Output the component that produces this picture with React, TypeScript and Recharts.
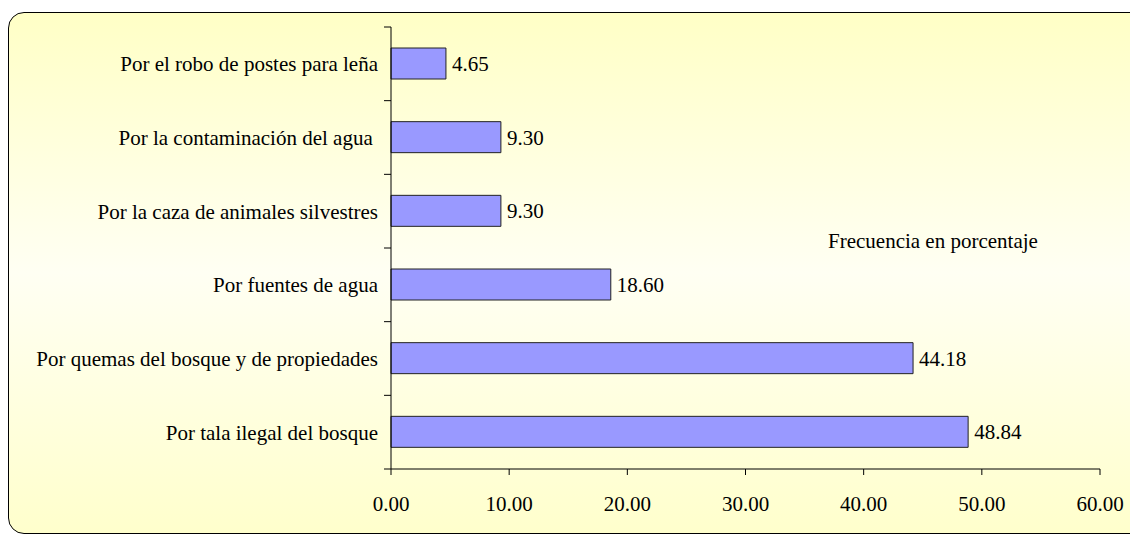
import { BarChart, Bar, XAxis, YAxis, LabelList } from 'recharts';

const categories = [
  'Por el robo de postes para leña',
  'Por la contaminación del agua ',
  'Por la caza de animales silvestres',
  'Por fuentes de agua',
  'Por quemas del bosque y de propiedades',
  'Por tala ilegal del bosque',
];
const frequencies = [4.65, 9.3, 9.3, 18.6, 44.18, 48.84];
const xTicks = [0, 10, 20, 30, 40, 50, 60];
const seriesName = 'Frecuencia en porcentaje';

const WIDTH = 1130;
const HEIGHT = 535;
const FONT = '"Liberation Serif", "Times New Roman", serif';
const PLOT_TOP = 27;
const PLOT_BOTTOM = 469;

const data = categories.map((name, i) => ({ name, value: frequencies[i] }));

// Category label at the band centre, short tick marks on the band edges
function CategoryTick(props: any) {
  const { x, y, payload, index } = props;
  const half = payload.offset ?? (PLOT_BOTTOM - PLOT_TOP) / categories.length / 2;
  return (
    <g>
      <line x1={x - 7} x2={x} y1={y - half} y2={y - half} stroke="#000" />
      {index === categories.length - 1 && (
        <line x1={x - 7} x2={x} y1={y + half} y2={y + half} stroke="#000" />
      )}
      <text
        x={x - 13}
        y={y}
        dy="0.355em"
        textAnchor="end"
        fill="#000"
        fontSize={21}
        fontFamily={FONT}
        style={{ whiteSpace: 'pre' }}
      >
        {payload.value}
      </text>
    </g>
  );
}

export default function App() {
  return (
    <div
      style={{
        position: 'fixed',
        left: 0,
        top: 0,
        width: WIDTH,
        height: HEIGHT,
        overflow: 'hidden',
        background: '#fff',
      }}
    >
      <div
        style={{
          position: 'absolute',
          left: 8,
          top: 12,
          width: 1140,
          height: 520,
          border: '1.5px solid #000',
          borderRadius: 16,
          background: 'linear-gradient(to bottom, #ffffc6 0%, #fffff3 50%, #ffffcc 100%)',
        }}
      />
      <div style={{ position: 'absolute', left: 0, top: 0 }}>
        <BarChart
          width={WIDTH}
          height={HEIGHT}
          data={data}
          layout="vertical"
          margin={{ top: PLOT_TOP, right: 30, bottom: 0, left: 0 }}
        >
          <XAxis
            type="number"
            domain={[0, 60]}
            ticks={xTicks}
            height={HEIGHT - PLOT_BOTTOM}
            tickFormatter={(v: number) => v.toFixed(2)}
            axisLine={{ stroke: '#000' }}
            tickLine={{ stroke: '#000' }}
            tickSize={6}
            tickMargin={21}
            tick={{ fill: '#000', fontSize: 21, fontFamily: FONT }}
          />
          <YAxis
            type="category"
            dataKey="name"
            width={391}
            axisLine={{ stroke: '#000' }}
            tickLine={false}
            tickSize={0}
            tickMargin={0}
            tick={<CategoryTick />}
            interval={0}
          />
          <Bar
            dataKey="value"
            fill="#9999ff"
            stroke="#222"
            strokeWidth={1}
            barSize={31}
            isAnimationActive={false}
          >
            <LabelList
              dataKey="value"
              position="right"
              offset={6}
              formatter={(v: any) => Number(v).toFixed(2)}
              fill="#000"
              fontSize={21}
              fontFamily={FONT}
            />
          </Bar>
          <text x={828} y={248} fill="#000" fontSize={21} fontFamily={FONT}>
            {seriesName}
          </text>
        </BarChart>
      </div>
    </div>
  );
}
